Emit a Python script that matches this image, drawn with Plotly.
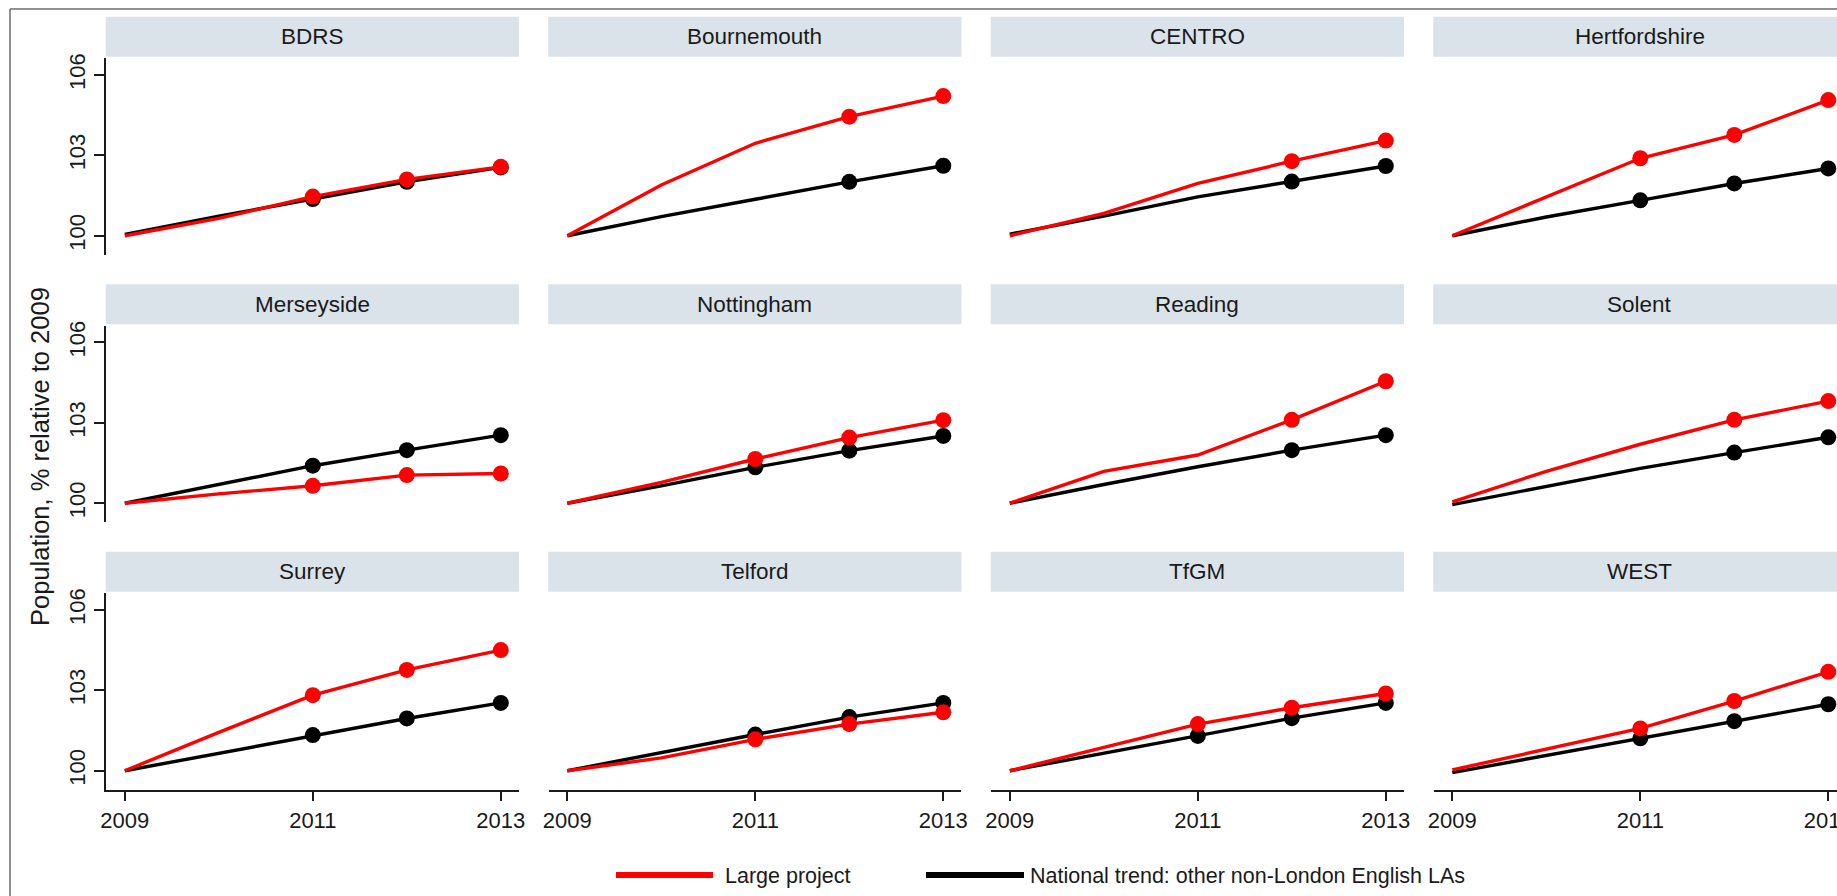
import plotly.graph_objects as go

# ---- data -------------------------------------------------------------
years = [2009, 2010, 2011, 2012, 2013]

panels = ["BDRS", "Bournemouth", "CENTRO", "Hertfordshire",
          "Merseyside", "Nottingham", "Reading", "Solent",
          "Surrey", "Telford", "TfGM", "WEST"]

# population index (2009 = 100), large-project areas
large_project = [
    [100.00, 100.65, 101.46, 102.10, 102.57],  # BDRS
    [100.00, 101.89, 103.45, 104.44, 105.21],  # Bournemouth
    [100.00, 100.83, 101.95, 102.78, 103.55],  # CENTRO
    [100.00, 101.45, 102.89, 103.76, 105.06],  # Hertfordshire
    [100.00, 100.35, 100.65, 101.05, 101.11],  # Merseyside
    [100.00, 100.78, 101.65, 102.45, 103.10],  # Nottingham
    [100.00, 101.19, 101.80, 103.11, 104.55],  # Reading
    [100.05, 101.19, 102.20, 103.11, 103.81],  # Solent
    [100.00, 101.43, 102.82, 103.76, 104.50],  # Surrey
    [100.00, 100.48, 101.17, 101.74, 102.18],  # Telford
    [100.00, 100.87, 101.74, 102.35, 102.88],  # TfGM
    [100.03, 100.80, 101.58, 102.60, 103.69],  # WEST
]

# national trend: other non-London English local authorities
national_trend = [
    [100.05, 100.73, 101.37, 102.01, 102.55],
    [100.00, 100.71, 101.36, 102.01, 102.61],
    [100.06, 100.73, 101.45, 102.02, 102.60],
    [100.00, 100.70, 101.32, 101.95, 102.51],
    [100.00, 100.69, 101.40, 101.98, 102.54],
    [100.00, 100.65, 101.34, 101.96, 102.51],
    [100.00, 100.70, 101.36, 101.98, 102.54],
    [99.95, 100.62, 101.30, 101.89, 102.46],
    [100.00, 100.65, 101.33, 101.95, 102.53],
    [100.00, 100.68, 101.35, 102.00, 102.53],
    [100.00, 100.65, 101.30, 101.96, 102.53],
    [99.93, 100.57, 101.21, 101.85, 102.48],
]

# first year that carries a point marker in each panel
first_marked_year = [2011, 2012, 2012, 2011,
                     2011, 2011, 2012, 2012,
                     2011, 2011, 2011, 2011]

y_ticks = [100, 103, 106]
x_ticks = [2009, 2011, 2013]

series_names = ["Large project", "National trend: other non-London English LAs"]

# ---- layout geometry (pixels) ------------------------------------------
W, H = 1837, 896
FONT = "Liberation Sans, Arial, Helvetica, sans-serif"
TEXT = "#1a1a1a"
RED, BLACK = "#ff0000", "#000000"
STRIP = "#dbe3ea"

col_pitch, row_pitch = 442.5, 267.5
plot_left0, plot_w = 106.0, 412.5
plot_top0, plot_h = 58.0, 196.5
strip_top0, strip_h = 16.7, 40.0
strip_left0 = 105.7
px_per_year = 94.0
x_start = 2008.8
y_range = [99.3, 106.63]


def px_x(p):
    return p / W


def px_y(p):
    return 1 - p / H


fig = go.Figure()
shapes, annotations = [], []

for i, name in enumerate(panels):
    r, c = divmod(i, 4)
    idx = i + 1
    xa = "xaxis" if idx == 1 else f"xaxis{idx}"
    ya = "yaxis" if idx == 1 else f"yaxis{idx}"
    xref = "x" if idx == 1 else f"x{idx}"
    yref = "y" if idx == 1 else f"y{idx}"

    left = plot_left0 + col_pitch * c
    right = min(left + plot_w, W)
    top = plot_top0 + row_pitch * r
    bottom = top + plot_h

    bottom_row = r == 2
    left_col = c == 0

    fig.update_layout({
        xa: dict(
            domain=[px_x(left), px_x(right)],
            range=[x_start, x_start + (right - left) / px_per_year],
            anchor=yref, showgrid=False, zeroline=False, automargin=False,
            showline=bottom_row, linecolor=TEXT, linewidth=1.8,
            ticks="outside" if bottom_row else "", ticklen=10, tickwidth=1.6,
            tickcolor=TEXT, ticklabeloverflow="allow",
            tickvals=x_ticks, showticklabels=bottom_row,
            tickfont=dict(family=FONT, size=22, color=TEXT),
            fixedrange=True,
        ),
        ya: dict(
            domain=[px_y(bottom), px_y(top)],
            range=y_range, anchor=xref, showgrid=False, zeroline=False,
            automargin=False,
            showline=left_col, linecolor=TEXT, linewidth=1.8,
            ticks="outside" if left_col else "", ticklen=10, tickwidth=1.6,
            tickcolor=TEXT,
            tickvals=y_ticks, showticklabels=left_col, tickangle=-90,
            tickfont=dict(family=FONT, size=22, color=TEXT),
            fixedrange=True,
        ),
    })

    # panel header strip
    s_left = strip_left0 + col_pitch * c
    s_right = s_left + plot_w + 0.8
    s_top = strip_top0 + row_pitch * r
    shapes.append(dict(type="rect", xref="paper", yref="paper",
                       x0=px_x(s_left), x1=px_x(min(s_right, W + 20)),
                       y0=px_y(s_top + strip_h), y1=px_y(s_top),
                       fillcolor=STRIP, line=dict(width=0), layer="below"))
    annotations.append(dict(text=name, xref="paper", yref="paper",
                            x=px_x((s_left + s_right) / 2),
                            y=px_y(s_top + strip_h / 2),
                            xanchor="center", yanchor="middle", showarrow=False,
                            font=dict(family=FONT, size=22.5, color=TEXT)))

    marker_sizes = [16 if yr >= first_marked_year[i] else 0 for yr in years]

    for vals, color in ((national_trend[i], BLACK), (large_project[i], RED)):
        fig.add_trace(go.Scatter(
            x=years, y=vals, xaxis=xref, yaxis=yref,
            mode="lines+markers",
            line=dict(color=color, width=3.4),
            marker=dict(color=color, size=marker_sizes, opacity=1,
                        line=dict(width=0)),
            cliponaxis=False, showlegend=False, hoverinfo="skip",
        ))

# outer frame of the graph region
shapes.append(dict(type="line", xref="paper", yref="paper",
                   x0=px_x(10), x1=px_x(10), y0=-0.05, y1=px_y(9),
                   line=dict(color="#6b6b6b", width=1.5)))
shapes.append(dict(type="line", xref="paper", yref="paper",
                   x0=px_x(10), x1=1.05, y0=px_y(9), y1=px_y(9),
                   line=dict(color="#6b6b6b", width=1.5)))

# legend keys
legend_y = 875
for (x0, x1, tx), color, label in zip(((616, 713, 723), (926, 1024, 1028)),
                                      (RED, BLACK), series_names):
    shapes.append(dict(type="line", xref="paper", yref="paper",
                       x0=px_x(x0), x1=px_x(x1), y0=px_y(legend_y), y1=px_y(legend_y),
                       line=dict(color=color, width=6)))
    annotations.append(dict(text=label, xref="paper", yref="paper",
                            x=px_x(tx), y=px_y(legend_y + 1),
                            xanchor="left", yanchor="middle", showarrow=False,
                            font=dict(family=FONT, size=21.5, color=TEXT)))

# shared y-axis title
annotations.append(dict(text="Population, % relative to 2009", xref="paper", yref="paper",
                        x=px_x(40), y=px_y(457), textangle=-90,
                        xanchor="center", yanchor="middle", showarrow=False,
                        font=dict(family=FONT, size=25.5, color=TEXT)))

fig.update_layout(
    width=W, height=H,
    margin=dict(l=0, r=0, t=0, b=0, autoexpand=False),
    paper_bgcolor="white", plot_bgcolor="white",
    shapes=shapes, annotations=annotations,
    showlegend=False,
)

fig.write_html("out.html", config={"displayModeBar": False})
